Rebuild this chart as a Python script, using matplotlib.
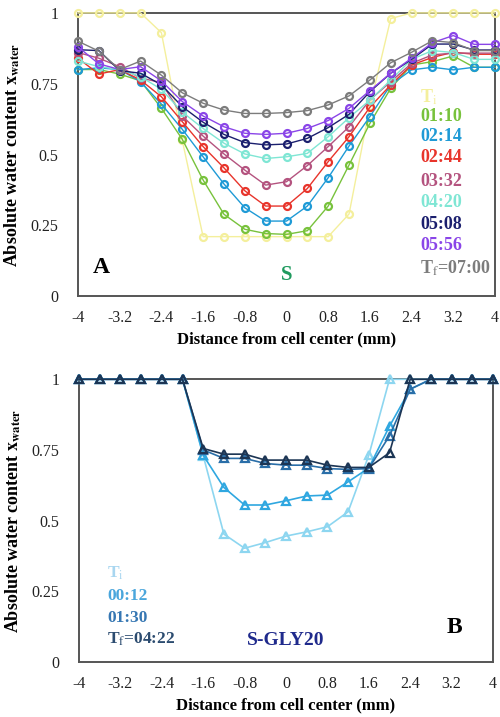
import matplotlib
matplotlib.use("Agg")
import matplotlib.pyplot as plt

# distance from cell center (mm), 0.4 mm steps
distance = [-4.0, -3.6, -3.2, -2.8, -2.4, -2.0, -1.6, -1.2, -0.8, -0.4, 0.0,
            0.4, 0.8, 1.2, 1.6, 2.0, 2.4, 2.8, 3.2, 3.6, 4.0]

# panel A, sample S
a_labels = ["T$_\\mathrm{i}$", "01:10", "02:14", "02:44", "03:32", "04:20",
            "05:08", "05:56", "T$_\\mathrm{f}$=07:00"]
a_ti = [1, 1, 1, 1, 0.93, 0.55, 0.21, 0.21, 0.21, 0.21, 0.21,
        0.21, 0.21, 0.29, 0.67, 0.98, 1, 1, 1, 1, 1]
a_0110 = [0.80, 0.80, 0.784, 0.76, 0.663, 0.554, 0.41, 0.289, 0.236, 0.221, 0.218,
          0.231, 0.318, 0.463, 0.61, 0.734, 0.816, 0.828, 0.848, 0.808, 0.808]
a_0214 = [0.80, 0.806, 0.80, 0.757, 0.678, 0.589, 0.492, 0.396, 0.312, 0.265, 0.265,
          0.318, 0.418, 0.53, 0.634, 0.746, 0.799, 0.808, 0.799, 0.808, 0.808]
a_0244 = [0.84, 0.784, 0.80, 0.763, 0.704, 0.616, 0.528, 0.453, 0.372, 0.318, 0.318,
          0.38, 0.475, 0.563, 0.667, 0.746, 0.816, 0.843, 0.861, 0.854, 0.854]
a_0332 = [0.86, 0.84, 0.81, 0.77, 0.754, 0.636, 0.565, 0.502, 0.445, 0.392, 0.404,
          0.461, 0.528, 0.598, 0.693, 0.757, 0.822, 0.852, 0.858, 0.858, 0.858]
a_0420 = [0.83, 0.81, 0.80, 0.775, 0.73, 0.65, 0.592, 0.54, 0.502, 0.486, 0.492,
          0.504, 0.563, 0.63, 0.692, 0.763, 0.836, 0.867, 0.86, 0.836, 0.836]
a_0508 = [0.87, 0.867, 0.796, 0.787, 0.746, 0.669, 0.614, 0.571, 0.542, 0.534, 0.537,
          0.557, 0.595, 0.642, 0.722, 0.787, 0.836, 0.89, 0.89, 0.869, 0.869]
a_0556 = [0.88, 0.82, 0.80, 0.81, 0.76, 0.687, 0.636, 0.598, 0.575, 0.571, 0.575,
          0.592, 0.62, 0.663, 0.726, 0.787, 0.84, 0.895, 0.92, 0.889, 0.889]
a_0700 = [0.90, 0.865, 0.80, 0.83, 0.78, 0.718, 0.681, 0.657, 0.645, 0.645, 0.648,
          0.655, 0.675, 0.707, 0.763, 0.824, 0.861, 0.902, 0.895, 0.867, 0.867]

# panel B, sample S-GLY20
b_labels = ["T$_\\mathrm{i}$", "00:12", "01:30", "T$_\\mathrm{f}$=04:22"]
b_ti = [1, 1, 1, 1, 1, 1, 0.73, 0.452, 0.402, 0.422, 0.445,
        0.46, 0.478, 0.531, 0.731, 1.0, 1, 1, 1, 1, 1]
b_0012 = [1, 1, 1, 1, 1, 1, 0.731, 0.617, 0.555, 0.555, 0.57,
          0.587, 0.59, 0.637, 0.686, 0.834, 0.965, 1, 1, 1, 1]
b_0130 = [1, 1, 1, 1, 1, 1, 0.75, 0.72, 0.72, 0.702, 0.696,
          0.696, 0.684, 0.681, 0.684, 0.80, 0.965, 1, 1, 1, 1]
b_0422 = [1, 1, 1, 1, 1, 1, 0.755, 0.735, 0.735, 0.714, 0.714,
          0.714, 0.696, 0.688, 0.688, 0.74, 1.0, 1, 1, 1, 1]

a_series = [a_ti, a_0110, a_0214, a_0244, a_0332, a_0420, a_0508, a_0556, a_0700]
a_colors = ["#f4ef9c", "#78c23c", "#1e9ad6", "#e8342b", "#b4537f", "#7fe6d4",
            "#1b1f6e", "#8a45e8", "#7c7c7c"]
b_series = [b_ti, b_0012, b_0130, b_0422]
b_colors = ["#8dd6f0", "#2fa7e0", "#2a6ea8", "#1c3554"]
b_text_colors = ["#a8d6f0", "#4aa6dc", "#3677b3", "#2c4c70"]

plt.rcParams["font.family"] = "Liberation Serif"
plt.rcParams["mathtext.fontset"] = "stix"

xticks = [-4, -3.2, -2.4, -1.6, -0.8, 0, 0.8, 1.6, 2.4, 3.2, 4]
yticks = [0, 0.25, 0.5, 0.75, 1]
ylabel = "Absolute water content $\\mathbf{x}_{\\mathbf{water}}$"


def style_axes(ax):
    ax.set_xlim(-4, 4)
    ax.set_ylim(0, 1)
    ax.set_xticks(xticks)
    ax.set_xticklabels([f"{t:g}" for t in xticks])
    ax.set_yticks(yticks)
    ax.set_yticklabels(["0", "0.25", "0.5", "0.75", "1"])
    ax.tick_params(length=0, labelsize=11.5, colors="#222222")
    ax.tick_params(axis="y", pad=14)
    ax.tick_params(axis="x", pad=10)
    for s in ax.spines.values():
        s.set_color("#555555")
        s.set_linewidth(1.4)
    ax.set_xlabel("Distance from cell center (mm)", fontsize=12,
                  fontweight="bold", labelpad=4)
    ax.set_ylabel(ylabel, fontsize=13, fontweight="bold", labelpad=6)


fig = plt.figure(figsize=(5, 7.17), dpi=100)
ax1 = fig.add_axes([0.156, 0.587, 0.834, 0.395])
ax2 = fig.add_axes([0.158, 0.077, 0.828, 0.394])

for vals, c in zip(a_series, a_colors):
    ax1.plot(distance, vals, color=c, lw=1.0, marker="o", ms=5,
             mfc="none", mec=c, mew=1.6, clip_on=False, zorder=3)
style_axes(ax1)

a_text_y = [0.703, 0.633, 0.562, 0.488, 0.406, 0.332, 0.254, 0.177, 0.099]
for lab, c, ty in zip(a_labels, a_colors, a_text_y):
    ax1.text(2.56, ty, lab, color=c, fontsize=13, fontweight="bold",
             ha="left", va="center")
ax1.text(-3.55, 0.1, "A", fontsize=17, fontweight="bold", ha="center", va="center")
ax1.text(0.0, 0.074, "S", color="#1f9a5e", fontsize=15, fontweight="bold",
         ha="center", va="center")

for vals, c in zip(b_series, b_colors):
    ax2.plot(distance, vals, color=c, lw=1.2, marker="^", ms=6,
             mfc="none", mec=c, mew=1.6, clip_on=False, zorder=3)
style_axes(ax2)

b_text_y = [0.314, 0.232, 0.155, 0.078]
for lab, c, ty in zip(b_labels, b_text_colors, b_text_y):
    ax2.text(-3.45, ty, lab, color=c, fontsize=12.5, fontweight="bold",
             ha="left", va="center")
ax2.text(0.0, 0.075, "S-GLY20", color="#1f2a8c", fontsize=14, fontweight="bold",
         ha="center", va="center")
ax2.text(3.25, 0.12, "B", fontsize=17, fontweight="bold", ha="center", va="center")

fig.savefig("out.png", dpi=100)
